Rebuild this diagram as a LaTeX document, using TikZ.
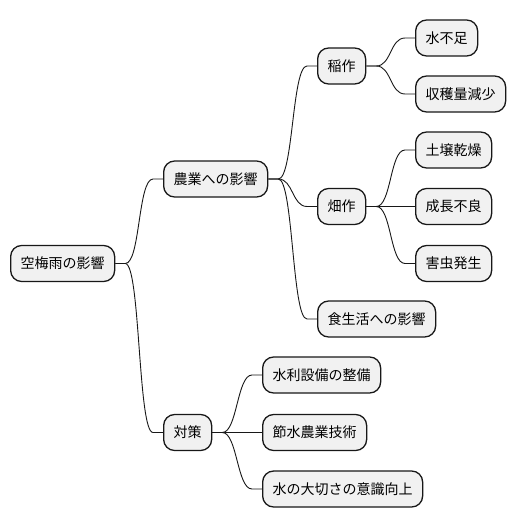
\documentclass[tikz,border=0pt]{standalone}
\usepackage{fontspec}
\setmainfont{Noto Sans CJK JP}
\usetikzlibrary{calc}
\definecolor{boxfill}{HTML}{F1F1F1}
\definecolor{boxline}{HTML}{181818}
\tikzset{
  mmbox/.style={draw=boxline, fill=boxfill, line width=1.3pt, rounded corners=11pt,
    minimum height=36pt, inner xsep=10pt, inner ysep=0pt, anchor=west,
    font=\fontsize{14}{17}\selectfont, text=black},
  mmlink/.style={draw=boxline, line width=0.9pt}
}
\newcommand\mmconn[2]{%
  \draw[mmlink] (#1.east) -- ++(10,0) .. controls +(15,0) and ($(#2.west)+(-25,0)$) .. ($(#2.west)+(-10,0)$) -- (#2.west);}
\begin{document}
\begin{tikzpicture}[x=1pt,y=-1pt]
\useasboundingbox[fill=white] (0,0) rectangle (516,527);
\node[mmbox] (root) at (10,263.5) {空梅雨の影響};
\node[mmbox] (agri) at (163,179) {農業への影響};
\node[mmbox] (rice) at (317,66) {稲作};
\node[mmbox] (water) at (415,38) {水不足};
\node[mmbox] (yield) at (415,94) {収穫量減少};
\node[mmbox] (field) at (317,206.5) {畑作};
\node[mmbox] (soil) at (415,150) {土壌乾燥};
\node[mmbox] (growth) at (415,206.5) {成長不良};
\node[mmbox] (pest) at (415,263.5) {害虫発生};
\node[mmbox] (food) at (317,319) {食生活への影響};
\node[mmbox] (measure) at (163,432.5) {対策};
\node[mmbox] (irrig) at (262,375) {水利設備の整備};
\node[mmbox] (saving) at (262,432.5) {節水農業技術};
\node[mmbox] (aware) at (262,489) {水の大切さの意識向上};
\mmconn{root}{agri}
\mmconn{root}{measure}
\mmconn{agri}{rice}
\mmconn{agri}{field}
\mmconn{agri}{food}
\mmconn{rice}{water}
\mmconn{rice}{yield}
\mmconn{field}{soil}
\mmconn{field}{growth}
\mmconn{field}{pest}
\mmconn{measure}{irrig}
\mmconn{measure}{saving}
\mmconn{measure}{aware}
\end{tikzpicture}
\end{document}
